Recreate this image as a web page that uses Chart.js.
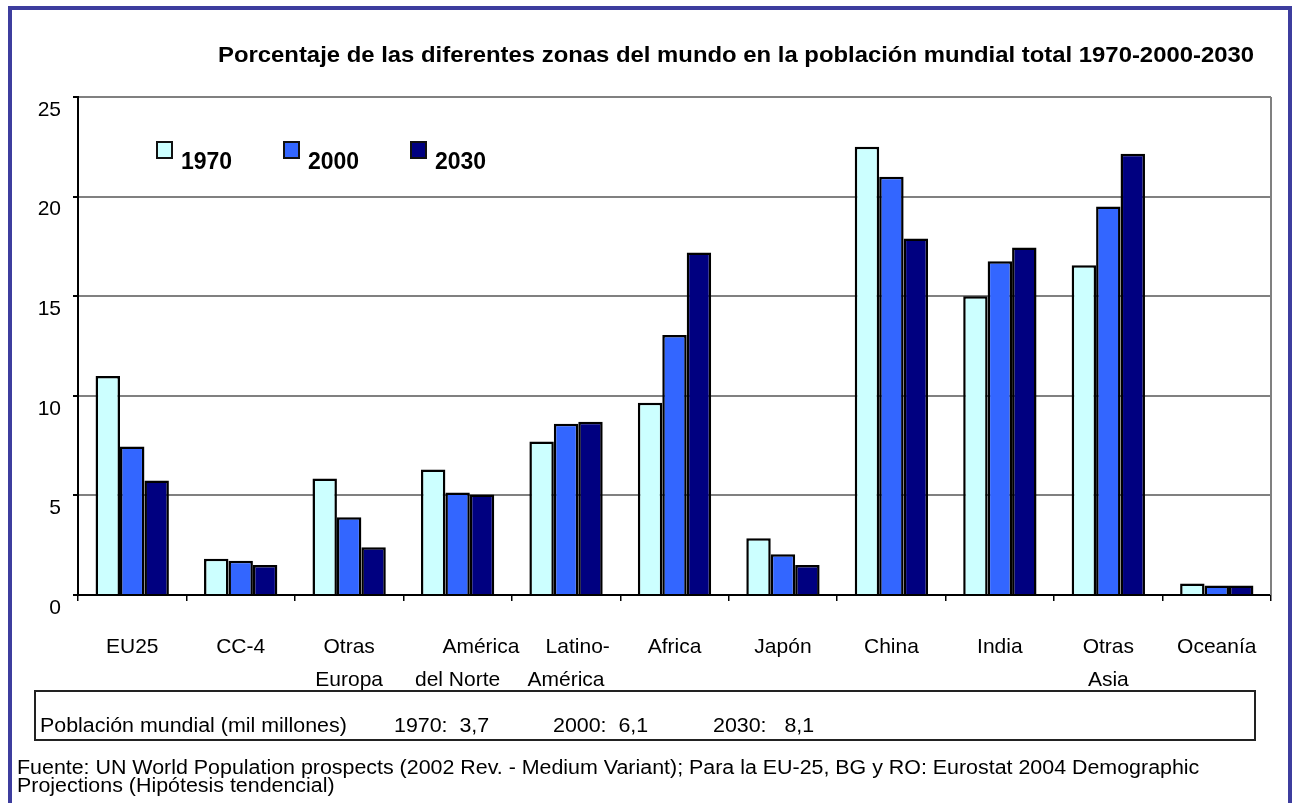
<!DOCTYPE html>
<html>
<head>
<meta charset="utf-8">
<script src="https://cdn.jsdelivr.net/npm/chart.js@4/dist/chart.umd.min.js"></script>
<style>
  html, body { margin: 0; padding: 0; background: #fff; }
  body { width: 1295px; height: 803px; position: relative; overflow: hidden;
         font-family: "Liberation Sans", Arial, sans-serif; color: #000; }
  #frame { position: absolute; left: 8px; top: 6px; width: 1276px; height: 820px;
           border: 4px solid #3d3d9e; border-bottom: none; }
  #wrap { position: absolute; left: 0; top: 0; width: 1295px; height: 803px; }
  #popChart { display: block; width: 1295px; height: 803px; }
  .stretch { transform-origin: 0 0; transform: scaleX(1.07); }
  #title { position: absolute; left: 218px; top: 42px; font-weight: bold; font-size: 22px;
           white-space: nowrap; transform-origin: 0 0; transform: scaleX(1.085); }
  #popbox { position: absolute; left: 34px; top: 690px; width: 1218px; height: 47px;
            border: 2px solid #222; }
  .pop { position: absolute; top: 714px; font-size: 20px; white-space: pre; }
  #source { position: absolute; left: 17px; top: 758px; font-size: 20px; line-height: 18px;
            white-space: nowrap; }
</style>
</head>
<body>
<div id="frame"></div>
<div id="wrap"><canvas id="popChart" width="1295" height="803"></canvas></div>
<div id="title">Porcentaje de las diferentes zonas del mundo en la población mundial total 1970-2000-2030</div>
<div id="popbox"></div>
<span class="pop stretch" style="left:40px">Población mundial (mil millones)</span>
<span class="pop stretch" style="left:394px">1970:  3,7</span>
<span class="pop stretch" style="left:553px">2000:  6,1</span>
<span class="pop stretch" style="left:713px">2030:   8,1</span>
<div id="source" class="stretch">Fuente: UN World Population prospects (2002 Rev. - Medium Variant); Para la EU-25, BG y RO: Eurostat 2004 Demographic<br>Projections (Hipótesis tendencial)</div>
<script>
// data
const regions = ['EU25', 'CC-4', ['Otras', 'Europa'], ['        América', 'del Norte'], ['    Latino-', 'América'],
                 'Africa', 'Japón', 'China', 'India', ['Otras', 'Asia'], 'Oceanía'];
const years = ['1970', '2000', '2030'];
const share1970 = [11.0, 1.82, 5.85, 6.3, 7.7, 9.65, 2.85, 22.5, 15.0, 16.55, 0.58];
const share2000 = [7.45, 1.72, 3.9, 5.15, 8.6, 13.05, 2.05, 21.0, 16.75, 19.5, 0.48];
const share2030 = [5.75, 1.5, 2.4, 5.05, 8.7, 17.2, 1.5, 17.9, 17.45, 22.15, 0.48];
const yTicks = [0, 5, 10, 15, 20, 25];
const colors = ['#ccffff', '#3366ff', '#000080'];

const FONT = '"Liberation Sans", Arial, sans-serif';

// legend drawn inside the plot area, like the original
const innerLegend = {
    id: 'innerLegend',
    afterDraw(chart) {
        const ctx = chart.ctx;
        ctx.save();
        ctx.font = 'bold 23px ' + FONT;
        ctx.textBaseline = 'alphabetic';
        chart.data.datasets.forEach((ds, i) => {
            const x = 157 + i * 127;
            ctx.fillStyle = ds.backgroundColor;
            ctx.fillRect(x, 142, 15, 16);
            ctx.strokeStyle = '#111';
            ctx.lineWidth = 2;
            ctx.strokeRect(x, 142, 15, 16);
            ctx.fillStyle = '#000';
            ctx.fillText(ds.label, x + 24, 169);
        });
        ctx.restore();
    }
};

// grey right border of the plot area
const plotBorder = {
    id: 'plotBorder',
    beforeDatasetsDraw(chart) {
        const a = chart.chartArea;
        const ctx = chart.ctx;
        ctx.save();
        ctx.strokeStyle = '#808080';
        ctx.lineWidth = 2;
        ctx.beginPath();
        ctx.moveTo(a.right, a.top);
        ctx.lineTo(a.right, a.bottom);
        ctx.stroke();
        ctx.restore();
    }
};

const ctx = document.getElementById('popChart').getContext('2d');
new Chart(ctx, {
    type: 'bar',
    data: {
        labels: regions,
        datasets: [share1970, share2000, share2030].map((d, i) => ({
            label: years[i],
            data: d,
            backgroundColor: colors[i],
            borderColor: '#000',
            borderWidth: 2.5,
            barPercentage: 1,
            categoryPercentage: 0.676
        }))
    },
    options: {
        responsive: false,
        animation: false,
        devicePixelRatio: 1,
        layout: { padding: { top: 97, right: 24, bottom: 0, left: 0 } },
        plugins: {
            legend: { display: false },
            title: { display: false },
            tooltip: { enabled: false }
        },
        scales: {
            x: {
                afterFit(scale) { scale.height = 208; },
                border: { color: '#000', width: 2 },
                grid: { drawOnChartArea: false, drawTicks: true, tickLength: 6, tickColor: '#000', lineWidth: 1.5, offset: true },
                ticks: {
                    color: '#000',
                    padding: 29,
                    maxRotation: 0,
                    autoSkip: false,
                    font: { family: FONT, size: 21, lineHeight: 1.6 }
                }
            },
            y: {
                min: 0,
                max: 25,
                afterFit(scale) { scale.width = 78; },
                afterBuildTicks(scale) { scale.ticks = yTicks.map(v => ({ value: v })); },
                border: { color: '#000', width: 2 },
                grid: { color: '#808080', lineWidth: 2, tickLength: 5, tickColor: '#000' },
                ticks: {
                    color: '#000',
                    padding: 12,
                    labelOffset: 13,
                    font: { family: FONT, size: 21 }
                }
            }
        }
    },
    plugins: [innerLegend, plotBorder]
});
</script>
</body>
</html>
